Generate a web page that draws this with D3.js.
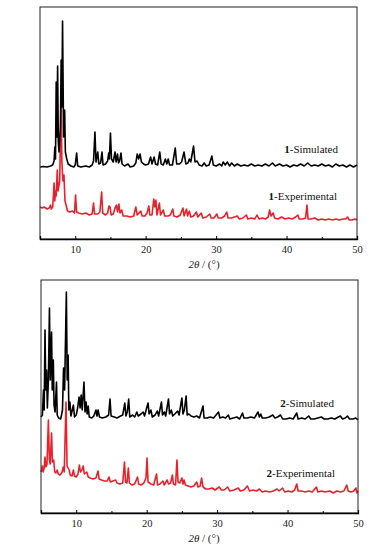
<!DOCTYPE html>
<html>
<head>
<meta charset="utf-8">
<script src="https://cdn.jsdelivr.net/npm/d3@7"></script>
<style>
  body { margin: 0; background: #fff; }
  text { font-family: "Liberation Serif", "DejaVu Serif", serif; }
</style>
</head>
<body>
<div id="chart"></div>
<script>
// axis ticks
const majorTicks = [10, 20, 30, 40, 50];
const minorTicks = [15, 25, 35, 45];

// trace points [2theta, intensity (a.u.)]
const sim1 = [
  [5.0,0],[5.5,0.5],[6.0,0],[6.5,1],[6.8,2],[7.0,6],[7.1,20],[7.2,8],[7.3,85],[7.4,30],[7.5,101],[7.6,25],[7.7,15],[7.9,40],[8.0,107],[8.1,60],[8.2,146],[8.35,30],[8.5,57],[8.6,15],[8.8,8],[9.0,3],[9.4,1],[9.8,0],[10.0,2],[10.2,14],[10.35,1],[10.8,0],[11.5,1],[12.0,0],[12.4,2],[12.6,6],[12.8,35],[12.95,5],[13.2,15],[13.35,3],[13.6,4],[13.8,15],[13.95,2],[14.3,3],[14.6,6],[14.75,14],[14.85,8],[15.0,34],[15.15,8],[15.4,5],[15.65,15],[15.8,5],[16.0,13],[16.15,4],[16.3,6],[16.5,14],[16.65,3],[17.0,1],[17.5,3],[17.8,0],[18.3,1],[18.6,4],[18.8,13],[19.0,8],[19.2,13],[19.4,5],[19.7,3],[20.0,2],[20.4,3],[20.7,10],[20.9,3],[21.2,10],[21.4,3],[21.7,2],[22.0,15],[22.2,3],[22.5,2],[22.8,8],[23.0,3],[23.2,8],[23.4,2],[23.8,2],[24.2,19],[24.4,3],[24.8,3],[25.1,5],[25.45,15],[25.7,3],[26.0,4],[26.2,8],[26.4,5],[26.8,21],[27.0,5],[27.3,6],[27.6,2],[28.0,1],[28.3,4],[28.6,1],[29.0,2],[29.4,11],[29.6,2],[30.0,1],[30.5,3],[30.8,1],[31.0,5],[31.3,2],[31.6,5],[31.9,1],[32.2,4],[32.6,1],[33.0,3],[33.5,1],[34.0,2],[34.5,1],[35.0,3],[35.5,1],[36.0,2],[36.5,1],[37.0,3],[37.5,1],[38.0,4],[38.4,1],[39.0,3],[39.5,1],[40.0,2],[40.5,0],[41.0,2],[41.5,1],[42.0,3],[42.5,1],[43.0,4],[43.5,1],[44.0,2],[44.5,1],[45.0,3],[45.5,1],[46.0,2],[46.5,0],[47.0,3],[47.5,1],[48.0,2],[48.5,0],[49.0,2],[49.5,0],[50.0,2]
];

const exp1 = [
  [5.0,14],[5.3,13],[5.6,14],[6.0,12],[6.3,13],[6.5,16],[6.6,12],[6.8,14],[6.9,25],[7.0,38],[7.1,20],[7.2,30],[7.3,25],[7.45,51],[7.55,30],[7.7,36],[7.8,40],[8.0,125],[8.1,60],[8.25,40],[8.4,46],[8.55,20],[8.7,16],[8.9,10],[9.2,9],[9.6,10],[9.9,8],[10.05,26],[10.2,9],[10.5,8],[11.0,7],[11.5,8],[12.0,6],[12.4,7],[12.6,18],[12.75,7],[13.2,7],[13.5,9],[13.75,29],[13.9,8],[14.3,6],[14.6,8],[14.8,15],[14.95,14],[15.1,6],[15.4,7],[15.7,14],[15.85,16],[16.0,9],[16.2,17],[16.35,8],[16.6,11],[16.8,5],[17.3,5],[17.8,4],[18.3,5],[18.6,14],[18.8,6],[19.3,10],[19.5,5],[19.9,5],[20.2,8],[20.45,15],[20.6,6],[20.9,6],[21.15,22],[21.3,14],[21.45,21],[21.6,6],[21.95,18],[22.1,6],[22.5,11],[22.7,5],[23.2,5],[23.5,6],[23.85,12],[24.0,5],[24.5,4],[24.9,6],[25.3,13],[25.45,5],[25.8,12],[25.95,5],[26.2,10],[26.4,4],[26.8,5],[27.2,9],[27.4,4],[27.9,8],[28.1,3],[28.6,4],[29.1,7],[29.3,3],[29.7,3],[30.1,7],[30.3,3],[30.8,3],[31.2,5],[31.5,9],[31.7,3],[32.2,3],[32.6,4],[33.0,5],[33.3,2],[33.8,3],[34.3,6],[34.5,2],[35.0,3],[35.5,2],[35.8,6],[36.1,2],[36.6,3],[37.0,2],[37.4,4],[37.6,11],[37.8,5],[38.1,8],[38.3,3],[38.8,2],[39.3,4],[39.8,2],[40.3,3],[40.8,2],[41.3,4],[41.6,6],[41.8,2],[42.3,2],[42.7,3],[42.9,16],[43.05,2],[43.5,2],[44.0,3],[44.5,1],[45.0,2],[45.5,1],[46.0,2],[46.5,1],[47.0,2],[47.5,1],[48.0,2],[48.4,2],[48.65,4],[48.9,1],[49.3,1],[49.7,2],[50.0,1]
];

const sim2 = [
  [5.0,3],[5.2,5],[5.35,30],[5.45,10],[5.57,90],[5.68,30],[5.8,50],[5.9,12],[6.05,40],[6.2,112],[6.32,40],[6.5,88],[6.6,30],[6.75,60],[6.85,15],[7.0,8],[7.2,38],[7.3,5],[7.5,2],[7.8,1],[8.05,10],[8.2,52],[8.35,30],[8.6,128],[8.72,40],[8.85,65],[8.95,10],[9.1,18],[9.25,4],[9.6,15],[9.75,3],[10.0,5],[10.2,12],[10.4,23],[10.55,12],[10.7,25],[10.85,10],[11.1,38],[11.25,8],[11.4,18],[11.55,6],[11.7,14],[11.85,3],[12.2,2],[12.5,4],[12.8,10],[12.95,4],[13.1,10],[13.3,3],[13.7,2],[14.2,3],[14.6,5],[14.8,21],[14.95,4],[15.4,3],[15.8,2],[16.3,4],[16.6,5],[16.9,17],[17.05,4],[17.25,8],[17.45,21],[17.6,3],[18.0,5],[18.3,3],[18.6,8],[18.8,4],[19.2,6],[19.5,8],[19.7,4],[20.0,12],[20.2,17],[20.35,6],[20.6,10],[20.8,3],[21.2,5],[21.5,9],[21.7,4],[22.1,18],[22.25,5],[22.5,8],[22.7,4],[23.1,21],[23.25,6],[23.5,10],[23.7,4],[24.0,6],[24.4,9],[24.6,5],[25.0,22],[25.15,6],[25.35,10],[25.6,24],[25.75,5],[26.0,6],[26.3,4],[26.7,3],[27.1,4],[27.5,2],[28.0,14],[28.15,2],[28.6,2],[29.0,3],[29.5,2],[30.2,8],[30.4,2],[30.8,3],[31.2,2],[31.6,5],[31.8,1],[32.3,2],[32.8,3],[33.2,1],[33.6,7],[33.8,2],[34.3,2],[34.8,3],[35.3,2],[35.8,8],[36.0,3],[36.2,6],[36.4,2],[36.9,2],[37.4,3],[37.9,5],[38.2,2],[38.6,3],[39.0,5],[39.3,1],[39.8,1],[40.3,2],[40.8,1],[41.3,7],[41.5,1],[42.0,2],[42.5,1],[43.0,4],[43.3,1],[43.8,1],[44.3,2],[44.8,3],[45.2,1],[45.7,1],[46.2,2],[46.7,1],[47.2,3],[47.5,4],[47.8,1],[48.2,2],[48.5,4],[48.8,1],[49.3,1],[49.7,2],[50.0,0]
];

const exp2 = [
  [5.0,22],[5.1,24],[5.2,28],[5.3,22],[5.45,26],[5.57,37],[5.7,27],[5.85,30],[6.05,74],[6.18,35],[6.3,30],[6.5,61],[6.62,32],[6.8,34],[6.95,22],[7.1,21],[7.3,24],[7.45,20],[7.7,19],[7.95,21],[8.17,27],[8.3,22],[8.55,92],[8.7,28],[9.0,24],[9.15,19],[9.4,18],[9.6,24],[9.75,18],[10.0,17],[10.25,20],[10.45,29],[10.6,22],[10.8,24],[11.0,28],[11.15,20],[11.5,22],[11.7,17],[12.0,16],[12.4,15],[12.8,16],[13.1,23],[13.25,15],[13.6,14],[14.0,13],[14.4,13],[14.65,17],[14.85,12],[15.2,13],[15.6,14],[15.8,11],[16.2,10],[16.6,11],[16.85,32],[17.0,12],[17.2,11],[17.4,26],[17.55,11],[17.9,9],[18.3,10],[18.7,17],[18.85,10],[19.2,9],[19.6,11],[19.9,16],[20.05,36],[20.2,12],[20.6,10],[21.0,9],[21.4,20],[21.55,9],[21.9,10],[22.3,13],[22.5,9],[22.9,14],[23.1,10],[23.4,11],[23.65,19],[23.8,10],[24.1,9],[24.3,34],[24.45,12],[24.7,11],[25.0,16],[25.15,10],[25.3,14],[25.5,9],[25.9,8],[26.3,7],[26.7,8],[27.1,12],[27.3,7],[27.6,8],[27.8,16],[28.0,7],[28.4,5],[28.8,5],[29.3,6],[29.7,4],[30.3,7],[30.6,4],[31.0,4],[31.5,7],[31.8,3],[32.4,4],[33.0,6],[33.3,3],[33.8,4],[34.3,8],[34.6,3],[35.1,4],[35.6,3],[36.0,5],[36.4,2],[36.9,3],[37.4,2],[38.0,3],[38.5,5],[38.8,3],[39.3,6],[39.6,2],[40.1,3],[40.6,2],[41.0,4],[41.3,10],[41.5,3],[42.0,3],[42.5,2],[43.0,3],[43.5,2],[44.1,7],[44.3,2],[44.8,3],[45.3,2],[46.0,3],[46.5,1],[47.0,3],[47.5,2],[48.0,3],[48.4,9],[48.6,3],[49.0,2],[49.4,3],[49.7,6],[49.85,1],[50.0,3]
];

const svg = d3.select("#chart")
  .append("svg")
  .attr("width", 387)
  .attr("height", 549);

// one stacked PXRD panel
function drawPanel(p) {
  const x = d3.scaleLinear().domain([5, 50]).range([p.left, p.right]);
  const y = d3.scaleLinear().domain([0, p.bottom - p.top]).range([p.bottom, p.top]);

  const g = svg.append("g");

  const line = off => d3.line()
    .x(d => x(d[0]))
    .y(d => y(d[1] + off));

  // traces
  g.append("path")
    .datum(p.exp)
    .attr("fill", "none")
    .attr("stroke", "#e8212b")
    .attr("stroke-width", 1.6)
    .attr("stroke-linejoin", "round")
    .attr("d", line(p.expOffset));

  g.append("path")
    .datum(p.sim)
    .attr("fill", "none")
    .attr("stroke", "#000")
    .attr("stroke-width", 1.6)
    .attr("stroke-linejoin", "round")
    .attr("d", line(p.simOffset));

  // frame
  g.append("rect")
    .attr("x", p.left)
    .attr("y", p.top)
    .attr("width", p.right - p.left)
    .attr("height", p.bottom - p.top)
    .attr("fill", "none")
    .attr("stroke", "#222")
    .attr("stroke-width", 1);

  // bottom axis, ticks inward
  const ax = g.append("g")
    .attr("transform", `translate(0,${p.bottom})`)
    .call(d3.axisBottom(x).tickValues(majorTicks).tickSize(-3).tickPadding(7).tickFormat(d3.format("d")));
  ax.attr("font-family", null);
  ax.select(".domain").attr("stroke", "#000").attr("stroke-width", 1.3);
  ax.selectAll(".tick text")
    .attr("font-size", "10.5px")
    .attr("fill", "#222");

  g.append("g")
    .attr("transform", `translate(0,${p.bottom})`)
    .call(d3.axisBottom(x).tickValues(minorTicks).tickSize(-2).tickFormat(""))
    .select(".domain").remove();

  // axis title
  const t = g.append("text")
    .attr("x", 204)
    .attr("y", p.bottom + 29)
    .attr("text-anchor", "middle")
    .attr("font-size", "11px")
    .attr("fill", "#222");
  t.append("tspan").attr("font-style", "italic").text("2θ");
  t.append("tspan").text(" / (°)");

  // series labels
  p.labels.forEach(l => {
    const lt = g.append("text")
      .attr("x", l.x)
      .attr("y", l.y)
      .attr("text-anchor", "end")
      .attr("font-size", "11px")
      .attr("fill", "#111");
    lt.append("tspan").attr("font-weight", "bold").text(l.num);
    lt.append("tspan").text("-" + l.name);
  });
}

drawPanel({
  left: 40, right: 357, top: 7, bottom: 239,
  sim: sim1, exp: exp1, simOffset: 72, expOffset: 18,
  labels: [
    { num: "1", name: "Simulated", x: 338, y: 153 },
    { num: "1", name: "Experimental", x: 337, y: 200 }
  ]
});

drawPanel({
  left: 41, right: 358, top: 280, bottom: 513,
  sim: sim2, exp: exp2, simOffset: 93, expOffset: 19,
  labels: [
    { num: "2", name: "Simulated", x: 334, y: 407 },
    { num: "2", name: "Experimental", x: 335, y: 477 }
  ]
});
</script>
</body>
</html>
